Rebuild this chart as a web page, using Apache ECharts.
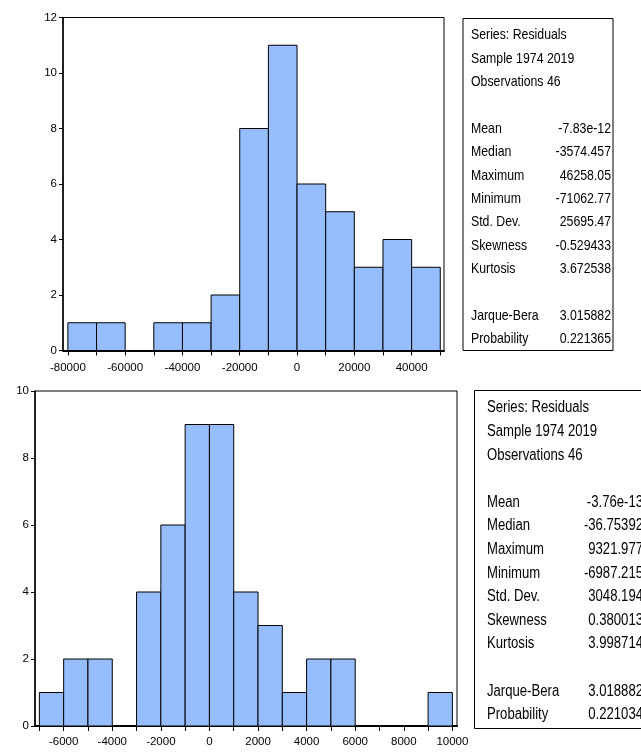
<!DOCTYPE html>
<html>
<head>
<meta charset="utf-8">
<script src="https://cdn.jsdelivr.net/npm/echarts@6/dist/echarts.min.js"></script>
<style>
  html, body { margin: 0; padding: 0; background: #fff; }
  #chart { width: 641px; height: 753px; }
</style>
</head>
<body>
<div id="chart"></div>
<script>
// ---------- data ----------
// Top histogram (bin width 10000)
var topBinStarts = [-80000, -70000, -60000, -50000, -40000, -30000, -20000, -10000, 0, 10000, 20000, 30000, 40000];
var topCounts    = [1, 1, 0, 1, 1, 2, 8, 11, 6, 5, 3, 4, 3];
var topBinWidth  = 10000;
var topXTicks    = [-80000, -70000, -60000, -50000, -40000, -30000, -20000, -10000, 0, 10000, 20000, 30000, 40000, 50000];
var topXLabels   = [-80000, -60000, -40000, -20000, 0, 20000, 40000];

// Bottom histogram (bin width 1000)
var botBinStarts = [-7000, -6000, -5000, -4000, -3000, -2000, -1000, 0, 1000, 2000, 3000, 4000, 5000, 6000, 7000, 8000, 9000];
var botCounts    = [1, 2, 2, 0, 4, 6, 9, 9, 4, 3, 1, 2, 2, 0, 0, 0, 1];
var botBinWidth  = 1000;
var botXTicks    = [-7000, -6000, -5000, -4000, -3000, -2000, -1000, 0, 1000, 2000, 3000, 4000, 5000, 6000, 7000, 8000, 9000, 10000];
var botXLabels   = [-6000, -4000, -2000, 0, 2000, 4000, 6000, 8000, 10000];

// Statistics boxes
var headerLines  = ['Series: Residuals', 'Sample 1974 2019', 'Observations 46'];
var statNames    = ['Mean', 'Median', 'Maximum', 'Minimum', 'Std. Dev.', 'Skewness', 'Kurtosis'];
var topStatVals  = ['-7.83e-12', '-3574.457', '46258.05', '-71062.77', '25695.47', '-0.529433', '3.672538'];
var botStatVals  = ['-3.76e-13', '-36.75392', '9321.977', '-6987.215', '3048.194', '0.380013', '3.998714'];
var testNames    = ['Jarque-Bera', 'Probability'];
var topTestVals  = ['3.015882', '0.221365'];
var botTestVals  = ['3.018882', '0.221034'];

// ---------- rendering ----------
var FONT = "'Liberation Sans', Arial, sans-serif";
var BAR_FILL = '#96BEFF';
var NARROW = 0.82;

function histData(starts, counts, w) {
  return starts.map(function (s, i) { return [s, s + w, counts[i]]; });
}

function renderHist(params, api) {
  var c = api.value(2);
  if (!c) return null;
  var p0 = api.coord([api.value(0), c]);
  var p1 = api.coord([api.value(1), 0]);
  return {
    type: 'rect',
    shape: { x: p0[0], y: p0[1], width: p1[0] - p0[0], height: p1[1] - p0[1] },
    style: { fill: BAR_FILL, stroke: '#000', lineWidth: 1 }
  };
}

function statBox(x, y, w, h, textX, valRight, firstY, step, fontSize, vals, testVals) {
  var children = [{
    type: 'rect',
    shape: { x: x, y: y, width: w, height: h },
    style: { fill: '#fff', stroke: '#000', lineWidth: 1 }
  }];
  var font = fontSize + 'px ' + FONT;
  function addText(t, px, line, align) {
    children.push({
      type: 'text',
      x: px, y: firstY + step * line,
      scaleX: NARROW, scaleY: 1,
      style: { text: t, x: 0, y: 0, font: font, fill: '#000', align: align, verticalAlign: 'middle' }
    });
  }
  headerLines.forEach(function (t, i) { addText(t, textX, i, 'left'); });
  statNames.forEach(function (t, i) { addText(t, textX, 4 + i, 'left'); addText(vals[i], valRight, 4 + i, 'right'); });
  testNames.forEach(function (t, i) { addText(t, textX, 12 + i, 'left'); addText(testVals[i], valRight, 12 + i, 'right'); });
  return { type: 'group', children: children };
}

var axisLabelStyle = { fontFamily: FONT, fontSize: 11.5, color: '#000' };

var chart = echarts.init(document.getElementById('chart'), null, { renderer: 'canvas' });
chart.setOption({
  animation: false,
  backgroundColor: '#fff',
  grid: [
    { left: 63, top: 17.5, width: 381, height: 333, show: true, borderColor: '#000', borderWidth: 1, containLabel: false },
    { left: 35, top: 391, width: 422, height: 335, show: true, borderColor: '#000', borderWidth: 1, containLabel: false }
  ],
  xAxis: [
    {
      type: 'value', gridIndex: 0, min: -81700, max: 51300,
      splitLine: { show: false },
      axisLine: { onZero: false, lineStyle: { color: '#000', width: 2 } },
      axisTick: { show: true, length: 5, customValues: topXTicks, lineStyle: { color: '#000' } },
      axisLabel: Object.assign({ margin: 11, customValues: topXLabels, formatter: function (v) { return String(v); } }, axisLabelStyle)
    },
    {
      type: 'value', gridIndex: 1, min: -7180, max: 10190,
      splitLine: { show: false },
      axisLine: { onZero: false, lineStyle: { color: '#000', width: 2 } },
      axisTick: { show: true, length: 5, customValues: botXTicks, lineStyle: { color: '#000' } },
      axisLabel: Object.assign({ margin: 10, customValues: botXLabels, formatter: function (v) { return String(v); } }, axisLabelStyle)
    }
  ],
  yAxis: [
    {
      type: 'value', gridIndex: 0, min: 0, max: 12, interval: 2,
      splitLine: { show: false },
      axisLine: { show: true, onZero: false, lineStyle: { color: '#000', width: 1.5 } },
      axisTick: { show: true, length: 4, lineStyle: { color: '#000' } },
      axisLabel: Object.assign({ margin: 6 }, axisLabelStyle)
    },
    {
      type: 'value', gridIndex: 1, min: 0, max: 10, interval: 2,
      splitLine: { show: false },
      axisLine: { show: true, onZero: false, lineStyle: { color: '#000', width: 1.5 } },
      axisTick: { show: true, length: 4, lineStyle: { color: '#000' } },
      axisLabel: Object.assign({ margin: 6 }, axisLabelStyle)
    }
  ],
  series: [
    {
      type: 'custom', xAxisIndex: 0, yAxisIndex: 0,
      renderItem: renderHist,
      encode: { x: [0, 1], y: 2 },
      data: histData(topBinStarts, topCounts, topBinWidth)
    },
    {
      type: 'custom', xAxisIndex: 1, yAxisIndex: 1,
      renderItem: renderHist,
      encode: { x: [0, 1], y: 2 },
      data: histData(botBinStarts, botCounts, botBinWidth)
    }
  ],
  graphic: [
    statBox(463, 18.5, 150, 332, 471, 611, 35, 23.4, 15, topStatVals, topTestVals),
    statBox(474.5, 390.5, 200, 338, 487, 643, 408, 23.6, 16, botStatVals, botTestVals)
  ]
});
</script>
</body>
</html>
